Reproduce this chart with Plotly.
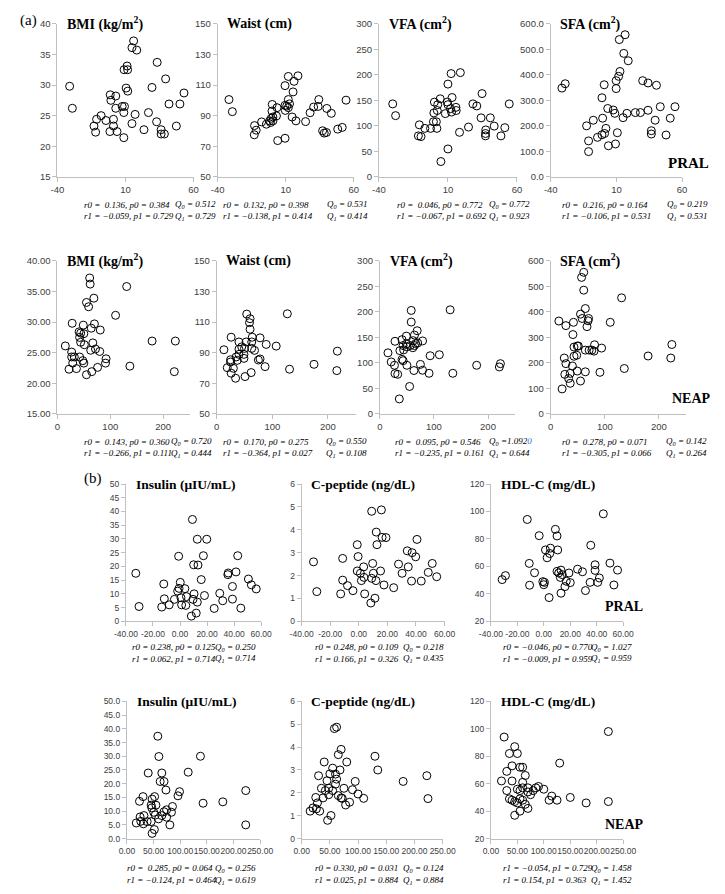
import plotly.graph_objects as go

W, H = 725, 894

# ---------------- data ----------------
# (a) PRAL row
pral_bmi_x = [-31, -29, 16, 14.8, 18.3, 11.2, 9, 11.6, 33.3, 39.5, 29.5, 10.5, 11.7, 53, -1.2, -0.7, 2.9, 42, 50, 2.9,
              7.6, 9.3, 8.8, 17.1, 26.9, -7.9, -11.2, -4.3, 1.2, -13.1, 1.2, 14.8, 32.9, 47.4, 36.2, -11.9, -1.4, 3.8,
              23.6, 36.2, 38.6, 8.8]
pral_bmi_y = [29.8, 26.2, 37.2, 36.1, 35.7, 33.1, 32.5, 32.5, 33.7, 31.0, 29.6, 29.5, 29.0, 28.7, 28.4, 27.5, 28.2,
              26.9, 26.9, 26.2, 26.5, 26.5, 25.5, 25.2, 25.5, 25.0, 24.4, 24.2, 24.4, 23.3, 23.3, 23.7, 24.0, 23.3,
              22.7, 22.3, 22.4, 22.4, 22.7, 22.0, 22.0, 21.4]

pral_waist_x = [-31.7, -29.2, 11.9, 19, 16.1, 9.5, 15.4, 11.9, 12.8, 10.7, 9.5, 11.9, 9.7, 0.1, 3.6, -0.1, 0.6, 3.2,
                -0.6, -1.8, 0.6, -7.7, -4.2, -1.1, -12.9, -11.7, -13.1, 14.7, 17.5, 24.6, 27.9, 30.5, 33.8, 34.3,
                40.2, 43.5, 54.3, 48.2, 51.5, 37.1, 38.3, 39.9, 4.1, 9.5]
pral_waist_y = [100.5, 92.6, 115.6, 116, 112.4, 109.6, 105.5, 100.5, 97.7, 96.2, 96.7, 95.2, 93.4, 97.3, 95.2, 93,
                89.1, 89.8, 88.3, 86.6, 86.6, 85.9, 84.4, 85.5, 83.5, 80.5, 77.5, 89.1, 86.6, 86.1, 91.9, 95.6, 96,
                100.5, 94.7, 91.5, 100.1, 81.2, 82.3, 80.1, 78.6, 79, 73.7, 75.2]

pral_vfa_x = [-30, -27.9, 12.3, 19, 10, 13, 4.4, 0.2, 9.5, 10, 2.6, 11.9, 15.8, 16, 8.1, -0.2, 2.3, 12.6, -0.5, 1.6,
              2, -10.7, -11.4, -9.5, -6.7, -2.6, 10, 4.9, 18.4, 24.9, 28.1, 30.9, 34.7, 34, 40.7, 37.4, 37.2, 37.2,
              43.5, 48.4, 51.2, 54.4]
pral_vfa_y = [143, 120, 202.4, 204.3, 181.8, 155.5, 153, 146.5, 146.5, 141.4, 141.4, 133.7, 136.2, 130, 124, 125.3,
              130, 127, 108, 108, 95, 102, 80.3, 79, 95, 95, 54.7, 30, 87.3, 97.6, 143, 139, 163.2, 115.7, 115.7,
              92, 85, 80.3, 99.5, 80.3, 96.4, 143]

pral_sfa_x = [-31.5, -29, 16.6, 12.2, 15.6, 19, 12.7, 11.7, 9.8, 9.8, 0.7, -1, 3.4, 7.6, 8.8, -0.5, 15.1, 18, 24.4,
              28.3, 30, 34.1, 40.5, 43.4, 34.1, 54.6, 39.5, 51, -7.6, -12.7, 2, 1, -1, -4.4, 10.7, -11.2, -11.2,
              3.9, 9.3, 36.6, 36.6, 47.8]
pral_sfa_y = [348, 365, 557, 538, 484, 455, 413, 394, 377, 346, 361, 310, 268, 262, 249, 230, 232, 249, 252, 252, 377,
              368, 359, 275, 261, 275, 222, 230, 222, 200, 190, 170, 165, 155, 173, 141, 99, 122, 129, 181, 168, 164]

# (a) NEAP row
neap_bmi_x = [61, 62, 131, 69, 55, 59, 110, 28, 49, 70, 64, 81, 41, 44, 50, 42, 44, 51, 67, 72, 63, 80, 15, 27, 27,
              32, 42, 48, 50, 29, 92, 91, 22, 36, 76, 65, 55, 137, 179, 223, 221]
neap_bmi_y = [37.2, 36.2, 35.8, 33.9, 33.2, 32.5, 31.1, 29.8, 29.5, 29.7, 29.0, 28.7, 28.4, 28.2, 28.1, 27.5, 26.7,
              26.3, 26.6, 25.6, 25.4, 25.2, 26.1, 25.1, 24.3, 24.3, 24.3, 23.7, 23.3, 23.3, 24.0, 23.3, 22.3, 22.4,
              22.6, 21.9, 21.4, 22.8, 26.9, 26.9, 21.9]

neap_waist_x = [54, 127, 59, 60, 60, 26, 64, 78, 40, 53, 63, 89, 107, 45, 40, 50, 63, 13, 68, 40, 49, 35, 49, 25, 37,
                75, 78, 25, 19, 30, 87, 26, 62, 34, 51, 131, 175, 217, 216]
neap_waist_y = [115.2, 115.4, 109.6, 112.2, 105.3, 100.1, 100.1, 99.7, 97, 97, 97, 95.4, 94.3, 93.8, 92.3, 92.8,
                92.8, 91.9, 91.5, 88.9, 88.9, 87.2, 86.3, 85.4, 85, 85.2, 85.9, 83.9, 80.2, 79.8, 80.9, 76.6, 77,
                73.3, 74.4, 79.2, 82.4, 91, 78.3]

neap_vfa_x = [58, 130, 58, 69, 49, 64, 28, 41, 62, 66, 70, 79, 49, 56, 43, 64, 37, 44, 61, 50, 15, 41, 43, 21, 27,
              50, 93, 110, 28, 33, 75, 79, 63, 91, 55, 36, 135, 179, 223, 221]
neap_vfa_y = [202.8, 204, 180, 163, 152.5, 154.5, 142.3, 145.5, 143.5, 137.8, 139, 143, 137, 134, 134, 134, 124,
              125.5, 129.7, 131.5, 119.7, 106.9, 104.3, 101.8, 95.3, 95.3, 114, 116, 79, 77.6, 97, 85.6, 85, 79.6,
              53.8, 29.4, 79.6, 95.3, 98.5, 92]

neap_sfa_x = [61, 57, 61, 131, 64, 55, 58, 70, 69, 15, 42, 28, 110, 67, 41, 81, 43, 49, 51, 64, 71, 76, 80, 94, 48,
              43, 25, 28, 40, 26, 36, 49, 33, 36, 55, 64, 91, 21, 136, 180, 224, 222]
neap_sfa_y = [555, 535, 485, 455, 413, 391, 374, 374, 365, 364, 359, 346, 359, 342, 311, 271, 262, 266, 266, 250,
              250, 250, 246, 258, 230, 226, 219, 197, 188, 155, 159, 168, 139, 120, 129, 165, 163, 98, 178, 227,
              272, 219]

# (b) PRAL row
pral_ins_x = [-32.7, -30.3, 9.2, 12.8, 19.8, -1, 17.3, 10.1, 13.3, 15.7, 0.2, -12, -0.7, 3.6, -1.7, 10.4, 4.8, 18.1,
              0.7, -11.6, -4.1, 9.6, 12.8, -8, 1.2, 4.3, -13.5, 8.4, 12, 25.3, 29.4, 31.6, 35.4, 35.7, 41.4, 42.7,
              38.8, 38.8, 45, 50.6, 52.8, 56.4]
pral_ins_y = [17.5, 5.4, 37.1, 29.9, 29.9, 23.7, 23.9, 20.6, 20.5, 15.2, 14.2, 13.6, 12.0, 11.9, 11.0, 10.0, 9.0,
              9.4, 8.6, 8.2, 8.0, 8.0, 7.0, 6.0, 6.0, 5.8, 5.2, 1.9, 3.0, 4.7, 10.2, 7.5, 17.0, 17.6, 18, 23.9, 12.7,
              8.1, 4.8, 15.4, 13.3, 11.8]

pral_cpep_x = [-31.7, -29.4, 9, 15.8, 12.2, 16.3, 19, 12.7, -1.1, -0.5, -11.3, 3.4, 9.7, 15.2, -1.1, 1.1, 3.6, 10.2,
               1.8, 9, 12, -11.3, -7.9, -4.1, -12.7, 4.1, 11.3, 8.4, 17.6, 24.4, 27.8, 30.3, 33.9, 37.3, 39.8, 40.7,
               34.6, 36.9, 43.7, 48.6, 51.4, 54.5]
pral_cpep_y = [2.6, 1.3, 4.81, 4.87, 3.9, 3.67, 3.66, 3.35, 3.35, 2.83, 2.75, 2.38, 2.53, 2.2, 2.2, 2.1, 1.92, 2.1,
               1.78, 1.88, 1.78, 1.8, 1.56, 1.34, 1.2, 1.2, 1.01, 0.8, 1.59, 1.47, 2.5, 2.1, 3.08, 3.0, 2.82, 3.58,
               2.38, 1.76, 1.76, 2.14, 2.53, 1.95]

pral_hdl_x = [-31.5, -29, -12.5, -3.5, 8.75, 10, 1.25, 5, 10.5, 4.5, 2.5, -11, -7, 10, 11.25, 13, 14, 12.5, 19, 25.5,
              29.25, 35.5, 38.75, 38.75, 50, 55.75, -0.75, 0.5, 0, -10.75, 17, 20, 16, 35, 42, 40.75, 31.5, 4, 13,
              53, 45]
pral_hdl_y = [50.4, 53.3, 94.2, 82.4, 87, 82.2, 72, 73.3, 72, 69.4, 66.3, 62.2, 55.4, 56.4, 55.2, 57.3, 54, 52,
              55.2, 58, 56.1, 75.4, 61.2, 57.1, 62.4, 57.3, 48.9, 48.4, 46.7, 46.3, 49.2, 48.2, 45.3, 48.4, 51.6,
              48.4, 42.4, 37.3, 40.5, 46.5, 98.3]

# (b) NEAP row
neap_ins_x = [58, 60, 138, 40, 65.5, 115, 62.4, 69.7, 73.3, 98.8, 95.8, 30.3, 52, 47.3, 23.6, 143, 180, 45.5, 54.5,
              46.7, 85.5, 74.5, 69.7, 83.6, 50.3, 53.3, 32, 24.8, 65.5, 74.5, 59.4, 26, 38, 45.5, 17.6, 30.9,
              80.6, 51.5, 47.3, 223, 223]
neap_ins_y = [37.3, 29.9, 30, 23.9, 23.9, 24.2, 20.8, 20.8, 17.7, 17.1, 15.6, 15.3, 15.3, 14.4, 13.6, 12.9, 13.4,
              12.2, 12.2, 11.2, 11.7, 10.5, 9.8, 9.6, 9.6, 8.6, 8.4, 7.9, 8.4, 7.8, 7.2, 6.3, 6.2, 6.2, 5.7, 5.4,
              5.0, 3.3, 1.9, 17.5, 5.0]

neap_cpep_x = [58, 62, 70, 65, 130, 80, 40, 135, 30, 50, 180, 222, 224, 45, 60, 90, 75, 35, 42, 55, 48, 65, 38, 70,
               25, 28, 20, 15, 32, 52, 46, 85, 78, 95, 62, 26, 55, 68, 60, 100, 110, 72, 48]
neap_cpep_y = [4.81, 4.87, 3.9, 3.67, 3.6, 3.35, 3.35, 3.0, 2.75, 2.83, 2.5, 2.75, 1.75, 2.53, 2.38, 2.14, 2.2,
               2.2, 2.1, 2.1, 1.92, 1.88, 1.78, 1.78, 1.8, 1.56, 1.34, 1.2, 1.2, 1.01, 0.8, 1.59, 1.47, 2.5, 2.6,
               1.3, 3.08, 3.0, 2.82, 1.95, 1.76, 1.76, 2.2]

neap_hdl_x = [222, 222, 25, 35, 45, 50, 55, 40, 60, 30, 65, 20, 30, 50, 55, 60, 70, 75, 80, 90, 100, 130, 60, 70, 40,
              85, 35, 40, 45, 50, 55, 60, 65, 110, 115, 125, 70, 45, 55, 180, 150]
neap_hdl_y = [98, 47, 94, 82, 87, 82, 72, 73, 72, 69, 66, 62, 55, 56, 55, 57, 54, 52, 55, 58, 56, 75, 61, 57, 62, 57,
              49, 48, 47, 46, 49, 48, 45, 48, 51, 48, 42, 37, 40, 46, 50]

NB = "\u00a0"

# ---------------- panel layout (pixel boxes) ----------------
panels = [
    # row 1 (PRAL)
    dict(x=pral_bmi_x, y=pral_bmi_y, box=(47, 188, 18, 173), xr=(-40, 60), xt=[-40, 10, 60], xf="{:.0f}",
         yr=(15, 40), yd=5, yf="", title="BMI (kg/m<sup>2</sup>)",
         s=("r0 =" + NB + NB + "0.136, p0 = 0.384", "r1 = −0.059, p1 = 0.729"), q=("0.512", "0.729"), sx=72, qx=167, sy=(201, 213)),
    dict(x=pral_waist_x, y=pral_waist_y, box=(213, 354, 18, 173), xr=(-40, 60), xt=[-40, 10, 60], xf="{:.0f}",
         yr=(50, 150), yd=20, yf="", title="Waist (cm)",
         s=("r0 =" + NB + NB + "0.132, p0 = 0.398", "r1 = −0.138, p1 = 0.414"), q=("0.531", "0.414"), sx=216, qx=324, sy=(201, 213)),
    dict(x=pral_vfa_x, y=pral_vfa_y, box=(380, 523, 18, 173), xr=(-40, 60), xt=[-40, 10, 60], xf="{:.0f}",
         yr=(0, 300), yd=50, yf="", title="VFA (cm<sup>2</sup>)",
         s=("r0 =" + NB + NB + "0.046, p0 = 0.772", "r1 = −0.067, p1 = 0.692"), q=("0.772", "0.923"), sx=397, qx=492, sy=(201, 213)),
    dict(x=pral_sfa_x, y=pral_sfa_y, box=(558, 694, 18, 173), xr=(-40, 60), xt=[-40, 10, 60], xf="{:.0f}",
         yr=(0, 600), yd=100, yf=".1f", title="SFA (cm<sup>2</sup>)",
         s=("r0 =" + NB + NB + "0.216, p0 = 0.164", "r1 = −0.106, p1 = 0.531"), q=("0.219", "0.531"), sx=568, qx=676, sy=(201, 213)),
    # row 2 (NEAP)
    dict(x=neap_bmi_x, y=neap_bmi_y, box=(47, 184, 258, 413), xr=(0, 250), xt=[0, 100, 200], xf="{:.0f}",
         yr=(15, 40), yd=5, yf=".2f", title="BMI (kg/m<sup>2</sup>)",
         s=("r0 =" + NB + NB + "0.143, p0 = 0.360", "r1 = −0.266, p1 = 0.111"), q=("0.720", "0.444"), sx=72, qx=163, sy=(441, 453)),
    dict(x=neap_waist_x, y=neap_waist_y, box=(212, 356, 258, 413), xr=(0, 250), xt=[0, 100, 200], xf="{:.0f}",
         yr=(50, 150), yd=20, yf="", title="Waist (cm)",
         s=("r0 =" + NB + NB + "0.170, p0 = 0.275", "r1 = −0.364, p1 = 0.027"), q=("0.550", "0.108"), sx=216, qx=323, sy=(441, 453)),
    dict(x=neap_vfa_x, y=neap_vfa_y, box=(381, 521, 258, 413), xr=(0, 250), xt=[0, 100, 200], xf="{:.0f}",
         yr=(0, 300), yd=50, yf="", title="VFA (cm<sup>2</sup>)",
         s=("r0 =" + NB + NB + "0.095, p0 = 0.546", "r1 = −0.235, p1 = 0.161"),
         q=("=1.092<span style='color:#2e75d6'>0</span>", "0.644"), sx=395, qx=492, sy=(441, 453)),
    dict(x=neap_sfa_x, y=neap_sfa_y, box=(558, 698, 258, 413), xr=(0, 250), xt=[0, 100, 200], xf="{:.0f}",
         yr=(0, 600), yd=100, yf="", title="SFA (cm<sup>2</sup>)",
         s=("r0 =" + NB + NB + "0.278, p0 = 0.071", "r1 = −0.305, p1 = 0.066"), q=("0.142", "0.264"), sx=568, qx=675, sy=(441, 453)),
    # row 3 (PRAL)
    dict(x=pral_ins_x, y=pral_ins_y, box=(118, 258, 484, 623), xr=(-40, 60), xt=[-40, -20, 0, 20, 40, 60], xf="{:.2f}",
         yr=(0, 50), yd=5, yf="", title="Insulin (μIU/mL)",
         s=("r0 = 0.238, p0 = 0.125", "r1 = 0.062, p1 = 0.714"), q=("0.250", "0.714"), sx=122, qx=208, sy=(649, 661)),
    dict(x=pral_cpep_x, y=pral_cpep_y, box=(300, 448, 484, 623), xr=(-40, 60), xt=[-40, -20, 0, 20, 40, 60], xf="{:.2f}",
         yr=(0, 6), yd=1, yf="", title="C-peptide (ng/dL)",
         s=("r0 = 0.248, p0 = 0.109", "r1 = 0.166, p1 = 0.326"), q=("0.218", "0.435"), sx=312, qx=403, sy=(649, 661)),
    dict(x=pral_hdl_x, y=pral_hdl_y, box=(496, 633, 484, 623), xr=(-40, 60), xt=[-40, -20, 0, 20, 40, 60], xf="{:.2f}",
         yr=(20, 120), yd=20, yf="", title="HDL-C (mg/dL)",
         s=("r0 = −0.046, p0 = 0.770", "r1 = −0.009, p1 = 0.959"), q=("1.027", "0.959"), sx=506, qx=598, sy=(649, 661)),
    # row 4 (NEAP)
    dict(x=neap_ins_x, y=neap_ins_y, box=(119, 257, 704, 843), xr=(0, 250), xt=[0, 50, 100, 150, 200, 250], xf="{:.2f}",
         yr=(0, 50), yd=5, yf=".1f", title="Insulin (μIU/mL)",
         s=("r0 =" + NB + NB + "0.285, p0 = 0.064", "r1 = −0.124, p1 = 0.464"), q=("0.256", "0.619"), sx=117, qx=208, sy=(873, 885)),
    dict(x=neap_cpep_x, y=neap_cpep_y, box=(300, 446, 704, 843), xr=(0, 250), xt=[0, 50, 100, 150, 200, 250], xf="{:.2f}",
         yr=(0, 6), yd=1, yf="", title="C-peptide (ng/dL)",
         s=("r0 = 0.330, p0 = 0.031", "r1 = 0.025, p1 = 0.884"), q=("0.124", "0.884"), sx=312, qx=403, sy=(873, 885)),
    dict(x=neap_hdl_x, y=neap_hdl_y, box=(496, 633, 704, 843), xr=(0, 250), xt=[0, 50, 100, 150, 200, 250], xf="{:.2f}",
         yr=(20, 120), yd=20, yf="", title="HDL-C (mg/dL)",
         s=("r1 = −0.054, p1 = 0.729", "r1 = 0.154, p1 = 0.363"), q=("1.458", "1.452"), sx=506, qx=598, sy=(873, 885)),
]

fig = go.Figure()
annotations = []
serif = "Liberation Serif"

def px(xp):
    return xp / W

def py(yp):
    return 1 - yp / H

for i, p in enumerate(panels):
    n = "" if i == 0 else str(i + 1)
    L, R, T, B = p["box"]
    fig.add_trace(go.Scatter(
        x=p["x"], y=p["y"], mode="markers", xaxis="x" + n, yaxis="y" + n,
        marker=dict(symbol="circle-open", size=8, color="black", line=dict(width=1, color="black")),
        showlegend=False, hoverinfo="skip"))
    fsz = 9.5 if i < 8 else 8.5
    tickfont = dict(family="Liberation Sans", size=fsz, color="#404040")
    ax = dict(showgrid=False, zeroline=False, showline=True, linecolor="#bfbfbf", linewidth=1,
              ticks="outside", ticklen=4, tickcolor="#bfbfbf", tickfont=tickfont)
    fig.layout["xaxis" + n] = dict(ax, domain=[px(L), px(R)], range=list(p["xr"]), tickmode="array",
                                   tickvals=p["xt"], ticktext=[p["xf"].format(v) for v in p["xt"]],
                                   tickangle=0, anchor="y" + n)
    fig.layout["yaxis" + n] = dict(ax, domain=[py(B), py(T)], range=list(p["yr"]), dtick=p["yd"],
                                   tick0=p["yr"][0], tickformat=p["yf"], anchor="x" + n)
    tsize = 14 if i < 8 else 13.5
    annotations.append(dict(text="<b>" + p["title"] + "</b>", x=px(L + 8), y=py(T), xref="paper", yref="paper",
                            xanchor="left", yanchor="middle", showarrow=False,
                            font=dict(family=serif, size=tsize, color="black")))
    for k in range(2):
        annotations.append(dict(text="<i>" + p["s"][k] + "</i>", x=px(p["sx"]), y=py(p["sy"][k]),
                                xref="paper", yref="paper", xanchor="left", yanchor="middle", showarrow=False,
                                font=dict(family=serif, size=9, color="black")))
        qv = p["q"][k]
        qtxt = "<i>Q<sub>%d</sub> " % k + (qv if qv.startswith("=") else "= " + qv) + "</i>"
        annotations.append(dict(text=qtxt, x=px(p["qx"]), y=py(p["sy"][k]),
                                xref="paper", yref="paper", xanchor="left", yanchor="middle", showarrow=False,
                                font=dict(family=serif, size=9, color="black")))

# group labels
for txt, xx, yy, sz in [("PRAL", 677, 159, 15), ("NEAP", 682, 397, 14), ("PRAL", 612, 608, 14), ("NEAP", 612, 829, 14)]:
    annotations.append(dict(text="<b>" + txt + "</b>", x=px(xx), y=py(yy), xref="paper", yref="paper",
                            xanchor="left", yanchor="middle", showarrow=False,
                            font=dict(family=serif, size=sz, color="black")))
for txt, xx, yy in [("(a)", 6, 15), ("(b)", 73, 478)]:
    annotations.append(dict(text=txt, x=px(xx), y=py(yy), xref="paper", yref="paper",
                            xanchor="left", yanchor="middle", showarrow=False,
                            font=dict(family=serif, size=15, color="black")))

fig.update_layout(width=W, height=H, margin=dict(l=0, r=0, t=0, b=0), paper_bgcolor="white",
                  plot_bgcolor="white", annotations=annotations, showlegend=False)
fig.write_html("out.html")
